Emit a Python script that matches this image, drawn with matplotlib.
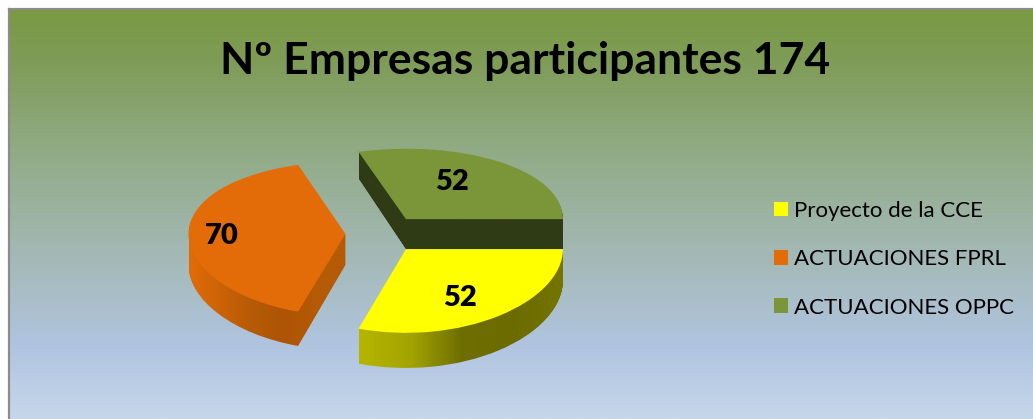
import numpy as np
import matplotlib
matplotlib.use("Agg")
import matplotlib.pyplot as plt
from matplotlib.colors import LinearSegmentedColormap
from matplotlib.path import Path

plt.rcParams['font.family'] = ['Lato', 'DejaVu Sans']

title = "Nº Empresas participantes 174"
categories = ["Proyecto de la CCE", "ACTUACIONES FPRL", "ACTUACIONES OPPC"]
values = [52, 70, 52]

top_colors = ["#ffff00", "#e36c09", "#7a9639"]
W, H = 1033, 419
CX, CY = 383.5, 235       # pie centre in pixels
R, RY = 157.0, 77.0       # ellipse semi-axes in pixels
EXPLODE = 38.0            # pie offsets are in data units
DEPTH = 30
K = 0.0008                # mild perspective: the back looks flatter than the front
SY = R / RY

fig = plt.figure(figsize=(W / 100, H / 100), dpi=100, facecolor="white")

# ---- background gradient
bx0, by1 = 8.5, 9.5
bg = fig.add_axes([bx0 / W, 0, 1 - bx0 / W, 1 - by1 / H], zorder=0)
stops = [(0.0, "#7a9a42"), (0.13, "#7f9c58"), (0.30, "#8ea87c"), (0.50, "#9cb3a3"),
         (0.62, "#a5bab8"), (0.82, "#b0c4e0"), (1.0, "#c6d7ea")]
bg.imshow(np.linspace(0, 1, 256)[:, None], aspect="auto", extent=(0, 1, 0, 1),
          cmap=LinearSegmentedColormap.from_list("bg", stops), vmin=0, vmax=1)
bg.set_xticks([]); bg.set_yticks([])
for s in ("right", "bottom"):
    bg.spines[s].set_visible(False)
for s in ("left", "top"):
    bg.spines[s].set_color("#8c8c8c")
    bg.spines[s].set_linewidth(1.6)

# ---- pie axes: x in pixels, y in (stretched) flat pie units with a perspective scale
ax = fig.add_axes([0, 0, 1, 1], zorder=1)
ax.patch.set_alpha(0)


def forward(y):
    v = np.asarray(y, dtype=float) / SY
    return 1 + v - K * v * v


def inverse(u):
    u = np.asarray(u, dtype=float)
    return SY * (1 - np.sqrt(np.maximum(1 - 4 * K * (u - 1), 0))) / (2 * K)


def pie_at(depth):
    wedges, _ = ax.pie(values, explode=[EXPLODE] * len(values), startangle=0,
                       counterclock=False, radius=R, center=(CX, -depth * SY),
                       colors=top_colors, wedgeprops=dict(linewidth=0))
    return wedges


side_maps = [
    LinearSegmentedColormap.from_list("y", ["#b5b500", "#a3a300", "#6e6e00", "#6b6b00", "#757500"]),
    LinearSegmentedColormap.from_list("o", ["#e06c08", "#cc6206", "#b65a06", "#ad5505", "#b55a06", "#b55a06"]),
    LinearSegmentedColormap.from_list("g", ["#2f3b15", "#2f3b15"]),
]

layers = [[] for _ in values]
for d in range(1, DEPTH + 1):
    for i, w in enumerate(pie_at(d)):
        layers[i].append(w.get_path().transformed(w.get_patch_transform()))
        w.remove()

z_order = [6, 4, 2]   # yellow in front, green behind
for i, paths in enumerate(layers):
    clip = Path.make_compound_path(*paths)
    x0, x1 = clip.vertices[:, 0].min(), clip.vertices[:, 0].max()
    y0, y1 = clip.vertices[:, 1].min(), clip.vertices[:, 1].max()
    im = ax.imshow(np.linspace(0, 1, 128)[None, :], aspect="auto", extent=(x0, x1, y0, y1),
                   cmap=side_maps[i], zorder=z_order[i], interpolation="bilinear")
    im.set_clip_path(clip, ax.transData)

tops = pie_at(0)
for w, z in zip(tops, z_order):
    w.set_zorder(z + 1)

ax.set_aspect("auto")
ax.set_yscale("function", functions=(forward, inverse))
ax.set_xlim(0, W)
ax.set_ylim(inverse(CY - H), inverse(CY))
ax.set_xticks([]); ax.set_yticks([])
ax.minorticks_off()
ax.set_frame_on(False)


def fx(px):
    return px / W


def fy(py):
    return 1 - py / H


# ---- texts
fig.text(fx(525), fy(61), title, ha="center", va="center", fontsize=32, fontweight="bold",
         color="black", zorder=5)
label_px = [(460, 298), (222, 236), (452, 182)]
for v, (px, py) in zip(values, label_px):
    fig.text(fx(px), fy(py), str(v), ha="center", va="center", fontsize=21, fontweight=800,
             color="black", zorder=5)

leg = ax.legend(tops, categories, loc="upper left", bbox_to_anchor=(fx(767), fy(194)),
                bbox_transform=fig.transFigure, frameon=False, fontsize=16,
                handlelength=0.63, handleheight=0.63, handletextpad=0.27,
                labelspacing=1.28, borderpad=0.3, borderaxespad=0)
leg.set_zorder(20)

fig.savefig("out.png", dpi=100, facecolor="white")
